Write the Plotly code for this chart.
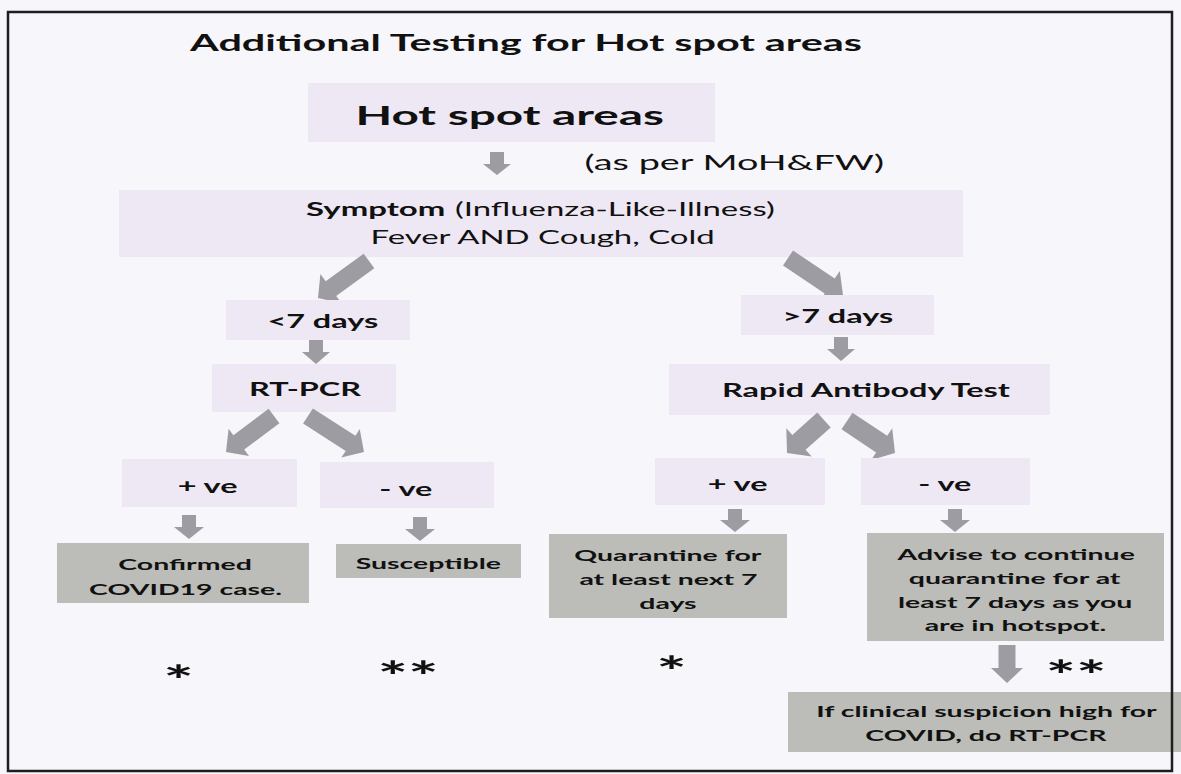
import plotly.graph_objects as go
import math

# ---------------- data (text content) ----------------
title_text = "Additional Testing for Hot spot areas"
source_label = "Hot spot areas"
source_note = "(as per MoH&FW)"
symptom_head = "Symptom"
symptom_detail = "(Influenza-Like-Illness)"
symptom_line2 = "Fever AND Cough, Cold"
duration_labels = ["<7 days", ">7 days"]
test_labels = ["RT-PCR", "Rapid Antibody Test"]
result_labels = ["+ ve", "- ve", "+ ve", "- ve"]
outcome_labels = [
    ["Confirmed", "COVID19 case."],
    ["Susceptible"],
    ["Quarantine for", "at least next 7", "days"],
    ["Advise to continue", "quarantine for at", "least 7 days as you", "are in hotspot."],
]
followup_label = ["If clinical suspicion high for", "COVID, do RT-PCR"]
asterisk_labels = ["*", "**", "*", "**"]

# ---------------- layout / styling ----------------
W, H = 1181, 774
FONT = "Lato"
STRETCH = 1.8          # horizontal stretch of the reference lettering
BG = "#f7f6fa"
FAINT = "#eee8f4"
GRAY_BOX = "#bcbcb8"
ARROW = "#9d9ca2"
TXT = "#111111"

fig = go.Figure()
fig.add_trace(go.Scatter(x=[0, W], y=[0, H], mode="markers", marker=dict(opacity=0),
                         hoverinfo="skip", showlegend=False))

shapes = []
annotations = []


def box(x0, y0, x1, y1, color):
    shapes.append(dict(type="rect", xref="x", yref="y", x0=x0, y0=y0, x1=x1, y1=y1,
                       fillcolor=color, line=dict(width=0), layer="below"))


def text(x, y, s, size, bold=True, color=TXT):
    annotations.append(dict(x=x, y=y, xref="x", yref="y", text=(f"<b>{s}</b>" if bold else s),
                            showarrow=False, xanchor="center", yanchor="middle",
                            font=dict(family=FONT, size=size, color=color)))


def lines(x, ys, items, size, bold=True):
    for yy, s in zip(ys, items):
        text(x, yy, s, size, bold)


def arrow(x0, y0, x1, y1, w=14, hw=30, hl=12, color=ARROW):
    dx, dy = x1 - x0, y1 - y0
    L = math.hypot(dx, dy)
    ux, uy = dx / L, dy / L
    nx, ny = -uy, ux
    bx, by = x1 - ux * hl, y1 - uy * hl
    pts = [
        (x0 + nx * w / 2, y0 + ny * w / 2),
        (bx + nx * w / 2, by + ny * w / 2),
        (bx + nx * hw / 2, by + ny * hw / 2),
        (x1, y1),
        (bx - nx * hw / 2, by - ny * hw / 2),
        (bx - nx * w / 2, by - ny * w / 2),
        (x0 - nx * w / 2, y0 - ny * w / 2),
    ]
    path = "M " + " L ".join(f"{px:.1f},{py:.1f}" for px, py in pts) + " Z"
    shapes.append(dict(type="path", xref="x", yref="y", path=path, fillcolor=color,
                       line=dict(width=0), layer="below"))


# outer frame
shapes.append(dict(type="rect", xref="x", yref="y", x0=8, y0=12, x1=1172, y1=771,
                   line=dict(color="#1e1e1e", width=2.5), fillcolor="rgba(0,0,0,0)", layer="above"))

# title
text(525, 42, title_text, 23)

# source
box(308, 83, 715, 142, FAINT)
text(509, 115, source_label, 26.5)
arrow(497, 152, 497, 175, w=14, hw=28, hl=11)
text(734, 161, source_note, 21, bold=False)

# symptom
box(119, 190, 963, 257, FAINT)
text(375, 209, symptom_head, 18.3, bold=True)
text(615, 209, symptom_detail, 18.3, bold=False)
text(542, 237, symptom_line2, 18.3, bold=False)

arrow(369, 261, 318, 298, w=18, hw=36, hl=16)
arrow(788, 258, 843, 295, w=18, hw=36, hl=16)

# durations
box(226, 300, 410, 340, FAINT)
text(323, 321, duration_labels[0], 18)
box(741, 295, 934, 335, FAINT)
text(838, 316, duration_labels[1], 18)

arrow(316, 340, 316, 364, w=14, hw=28, hl=12)
arrow(841, 337, 841, 361, w=14, hw=28, hl=12)

# tests
box(212, 364, 396, 412, FAINT)
text(305, 389, test_labels[0], 18)
box(669, 364, 1050, 415, FAINT)
text(866, 390, test_labels[1], 18)

arrow(274, 416, 226, 452, w=18, hw=34, hl=16)
arrow(308, 416, 364, 452, w=18, hw=34, hl=16)
arrow(824, 420, 787, 453, w=20, hw=38, hl=16)
arrow(847, 421, 895, 453, w=20, hw=38, hl=16)

# results
res_boxes = [(122, 459, 297, 507), (320, 462, 494, 508), (655, 458, 825, 505), (861, 458, 1030, 505)]
res_text = [(208, 486), (406, 489), (738, 484), (945, 484)]
for (bx0, by0, bx1, by1), (tx, ty), lab in zip(res_boxes, res_text, result_labels):
    box(bx0, by0, bx1, by1, FAINT)
    text(tx, ty, lab, 18)

for ax in [(189, 515, 539), (420, 517, 541), (735, 509, 532), (955, 509, 532)]:
    arrow(ax[0], ax[1], ax[0], ax[2], w=14, hw=30, hl=12)

# outcomes
out_boxes = [(57, 543, 309, 603), (336, 544, 521, 578), (549, 534, 787, 618), (867, 533, 1164, 641)]
out_x = [185, 428, 668, 1015]
out_y = [[563, 588], [562], [554, 578, 602], [553, 577, 601, 624]]
for (bx0, by0, bx1, by1), tx, ys, labs in zip(out_boxes, out_x, out_y, outcome_labels):
    box(bx0, by0, bx1, by1, GRAY_BOX)
    lines(tx, ys, labs, 15.8)

arrow(1007, 645, 1007, 683, w=17, hw=32, hl=15)

box(788, 692, 1181, 752, GRAY_BOX)
lines(986, [710, 734], followup_label, 15.8)

# asterisks
for (ax_, ay_), lab in zip([(178, 680), (408, 676), (671, 671), (1076, 675)], asterisk_labels):
    text(ax_, ay_, lab, 40, bold=True)

fig.update_layout(
    width=W, height=H, autosize=False,
    margin=dict(l=0, r=0, t=0, b=0),
    paper_bgcolor=BG, plot_bgcolor=BG,
    xaxis=dict(range=[0, W], visible=False, fixedrange=True),
    yaxis=dict(range=[H, 0], visible=False, fixedrange=True),
    shapes=shapes, annotations=annotations, showlegend=False,
)

post = (
    "var s=document.createElement('style');"
    "s.textContent='body{margin:0;} .annotation-text{transform-box:fill-box;"
    "transform-origin:center;transform:scaleX(" + str(STRETCH) + ");}';"
    "document.head.appendChild(s);"
)
fig.write_html("out.html", post_script=post, config={"displayModeBar": False})
